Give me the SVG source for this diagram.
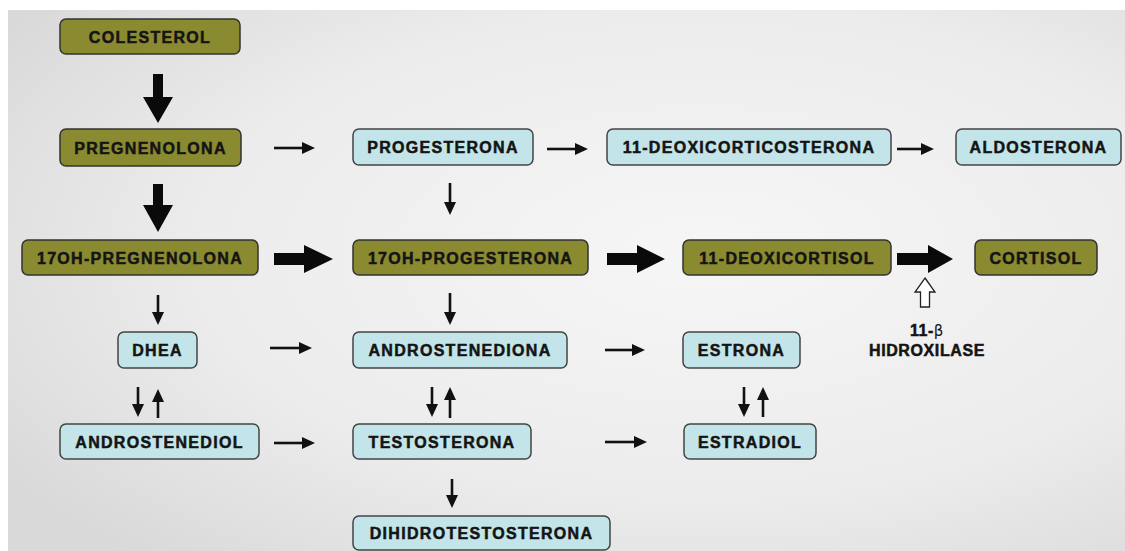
<svg xmlns="http://www.w3.org/2000/svg" width="1125" height="551" viewBox="0 0 1125 551">
<defs>
<radialGradient id="bg" cx="0.62" cy="0.45" r="0.75">
<stop offset="0" stop-color="#f6f6f6"/>
<stop offset="0.6" stop-color="#ececec"/>
<stop offset="1" stop-color="#d9d9d9"/>
</radialGradient>
<marker id="ah" markerWidth="13" markerHeight="12" refX="1" refY="6" orient="auto" markerUnits="userSpaceOnUse">
<path d="M0,0 L13,6 L0,12 z" fill="#111"/>
</marker>
</defs>
<style>
.olive{fill:#8a8a30;stroke:#333;stroke-width:1.5}
.blue{fill:#c3e4e8;stroke:#444;stroke-width:1.5}
.t{font-family:"Liberation Sans",Arial,sans-serif;font-weight:bold;font-size:16px;letter-spacing:1.3px;fill:#141414;stroke:#141414;stroke-width:0.5;text-anchor:middle}
.thin{stroke:#111;stroke-width:2.6;marker-end:url(#ah)}
.big{fill:#0a0a0a}
</style>
<rect x="0" y="0" width="1125" height="551" fill="#ffffff"/>
<rect x="8" y="10" width="1117" height="541" fill="url(#bg)"/>

<g id="colesterol"><rect class="olive" x="60" y="19" width="180" height="35" rx="6"/><text class="t" x="150" y="42.5">COLESTEROL</text></g>
<g id="pregnenolona"><rect class="olive" x="60" y="129" width="181" height="37" rx="6"/><text class="t" x="150.5" y="153.5">PREGNENOLONA</text></g>
<g id="progesterona"><rect class="blue" x="353" y="129" width="180" height="36" rx="6"/><text class="t" x="443" y="153">PROGESTERONA</text></g>
<g id="deoxicorticosterona"><rect class="blue" x="607" y="129" width="284" height="36" rx="6"/><text class="t" x="749" y="153">11-DEOXICORTICOSTERONA</text></g>
<g id="aldosterona"><rect class="blue" x="956" y="129" width="165" height="36" rx="6"/><text class="t" x="1038.5" y="153">ALDOSTERONA</text></g>
<g id="oh-pregnenolona"><rect class="olive" x="22" y="240" width="236" height="35" rx="6"/><text class="t" x="140" y="263.5">17OH-PREGNENOLONA</text></g>
<g id="oh-progesterona"><rect class="olive" x="353" y="240" width="235" height="35" rx="6"/><text class="t" x="470.5" y="263.5">17OH-PROGESTERONA</text></g>
<g id="deoxicortisol"><rect class="olive" x="683" y="240" width="208" height="35" rx="6"/><text class="t" x="787" y="263.5">11-DEOXICORTISOL</text></g>
<g id="cortisol"><rect class="olive" x="975" y="240" width="122" height="35" rx="6"/><text class="t" x="1036" y="263.5">CORTISOL</text></g>
<g id="dhea"><rect class="blue" x="118" y="332" width="79" height="36" rx="6"/><text class="t" x="157.5" y="356">DHEA</text></g>
<g id="androstenediona"><rect class="blue" x="353" y="332" width="214" height="36" rx="6"/><text class="t" x="460" y="356">ANDROSTENEDIONA</text></g>
<g id="estrona"><rect class="blue" x="683" y="332" width="117" height="36" rx="6"/><text class="t" x="741.5" y="356">ESTRONA</text></g>
<g id="androstenediol"><rect class="blue" x="60" y="424" width="199" height="35" rx="6"/><text class="t" x="159.5" y="447.5">ANDROSTENEDIOL</text></g>
<g id="testosterona"><rect class="blue" x="353" y="424" width="178" height="35" rx="6"/><text class="t" x="442" y="447.5">TESTOSTERONA</text></g>
<g id="estradiol"><rect class="blue" x="684" y="424" width="132" height="35" rx="6"/><text class="t" x="750" y="447.5">ESTRADIOL</text></g>
<g id="dihidrotestosterona"><rect class="blue" x="353" y="516" width="257" height="34" rx="6"/><text class="t" x="481.5" y="539">DIHIDROTESTOSTERONA</text></g>
<g id="hidroxilase">
<text class="t" x="927" y="336" style="letter-spacing:0.5px">11-<tspan font-weight="normal" font-family="DejaVu Sans, sans-serif" font-size="15" stroke-width="0">β</tspan></text>
<text class="t" x="927" y="356" style="letter-spacing:0.6px">HIDROXILASE</text>
</g>

<g id="connectors">
<line class="thin" x1="274" y1="148" x2="303" y2="148"/>
<line class="thin" x1="547" y1="149" x2="576" y2="149"/>
<line class="thin" x1="897" y1="149" x2="922" y2="149"/>
<line class="thin" x1="270" y1="348" x2="300" y2="348"/>
<line class="thin" x1="605" y1="350" x2="633" y2="350"/>
<line class="thin" x1="274" y1="443" x2="303" y2="443"/>
<line class="thin" x1="605" y1="442" x2="635" y2="442"/>
<line class="thin" x1="450" y1="183" x2="450" y2="203"/>
<line class="thin" x1="158" y1="295" x2="158" y2="313"/>
<line class="thin" x1="450" y1="293" x2="450" y2="313"/>
<line class="thin" x1="138" y1="387" x2="138" y2="405"/>
<line class="thin" x1="432" y1="387" x2="432" y2="405"/>
<line class="thin" x1="744" y1="387" x2="744" y2="405"/>
<line class="thin" x1="452" y1="479" x2="452" y2="496"/>
<line class="thin" x1="158" y1="418" x2="158" y2="401"/>
<line class="thin" x1="450" y1="418" x2="450" y2="399"/>
<line class="thin" x1="763" y1="417" x2="763" y2="399"/>
<polygon class="big" points="153,74 163,74 163,97 173,97 158,123 143,97 153,97"/>
<polygon class="big" points="153,184 163,184 163,205 173,205 158,232 143,205 153,205"/>
<polygon class="big" points="274,253 304,253 304,245 333,259 304,273 304,265 274,265"/>
<polygon class="big" points="607,253 637,253 637,245 665,259 637,273 637,265 607,265"/>
<polygon class="big" points="897,253 928,253 928,245 953,259 928,273 928,265 897,265"/>
<polygon points="925,278 935,292 929.5,292 929.5,307 920.5,307 920.5,292 915,292" fill="#ffffff" stroke="#222" stroke-width="1.3"/>
</g>
</svg>
